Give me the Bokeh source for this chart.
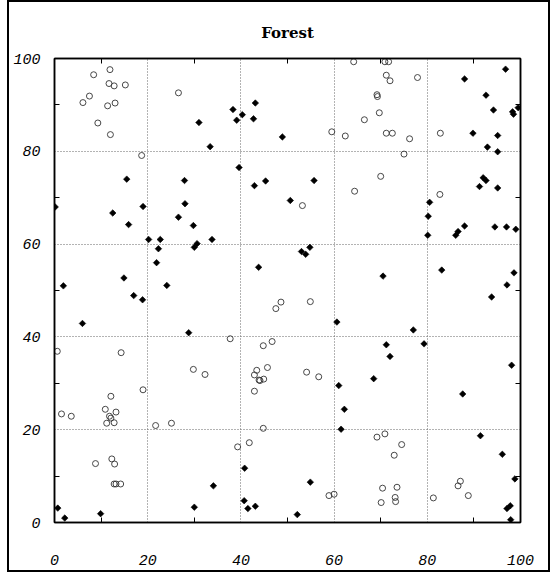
import math
from bokeh.plotting import figure
from bokeh.models import FixedTicker, LinearAxis, Range1d
from bokeh.embed import file_html
from bokeh.resources import INLINE

# Open circles
circle_x = [8.4, 11.9, 11.7, 12.8, 15.2, 7.5, 6.1, 11.4, 13.0, 9.3, 12.0, 26.6, 18.7,
            64.2, 70.9, 71.7, 71.2, 72.0, 77.9, 69.2, 69.3, 69.7, 66.5, 59.5, 62.4, 71.2,
            72.5, 76.2, 75.0, 82.8, 70.0, 64.4, 82.7, 53.2, 48.6, 47.5, 37.7, 46.7, 44.8,
            0.6, 14.3, 29.8, 32.3, 45.7, 43.4, 42.9, 43.9, 44.1, 44.9, 42.9, 19.0, 12.1,
            10.9, 13.2, 11.8, 12.1, 11.2, 12.8, 1.5, 3.6, 21.7, 25.1, 44.8, 41.8, 39.3,
            12.3, 12.9, 8.8, 12.8, 13.2, 14.2, 54.9, 54.1, 56.7, 69.2, 70.9, 74.5, 72.9,
            87.1, 86.6, 88.8, 81.3, 70.4, 73.5, 73.1, 73.2, 70.1, 58.9, 60.0]
circle_y = [96.5, 97.6, 94.6, 94.1, 94.3, 91.9, 90.5, 89.8, 90.4, 86.1, 83.6, 92.6, 79.1,
            99.3, 99.3, 99.3, 96.4, 95.2, 95.9, 92.2, 91.8, 88.3, 86.8, 84.2, 83.3, 83.9,
            83.9, 82.7, 79.4, 83.9, 74.6, 71.4, 70.7, 68.3, 47.5, 46.1, 39.6, 39.0, 38.1,
            36.9, 36.6, 33.0, 31.9, 33.4, 32.8, 31.8, 30.7, 30.6, 30.9, 28.3, 28.6, 27.2,
            24.4, 23.8, 22.9, 22.5, 21.4, 21.5, 23.4, 22.9, 20.9, 21.4, 20.3, 17.2, 16.3,
            13.7, 12.6, 12.7, 8.3, 8.3, 8.3, 47.6, 32.4, 31.4, 18.4, 19.1, 16.8, 14.5,
            8.9, 7.9, 5.8, 5.3, 7.4, 7.6, 5.4, 4.5, 4.3, 5.8, 6.1]

# Filled diamonds
diamond_x = [31.0, 38.3, 39.1, 40.3, 42.7, 43.1, 48.9, 33.4, 39.6, 15.5, 27.9, 45.3, 42.9,
             0.15, 12.5, 19.0, 28.0, 26.6, 15.9, 29.8, 20.2, 22.7, 33.8, 30.6, 30.0, 22.3,
             21.9, 43.8, 14.9, 1.9, 24.1, 96.8, 88.0, 92.6, 94.2, 98.3, 98.5, 99.5, 89.8,
             95.1, 92.9, 95.1, 55.7, 50.6, 92.0, 92.6, 91.2, 95.1, 80.5, 80.2, 80.1, 88.0,
             86.6, 86.1, 94.5, 97.0, 99.0, 53.0, 53.9, 54.8, 83.1, 98.6, 70.5, 97.1, 17.0,
             18.9, 6.0, 28.8, 0.7, 2.2, 9.9, 30.0, 34.1, 40.8, 40.7, 41.5, 43.1, 93.8, 60.6,
             77.0, 71.2, 79.3, 72.0, 98.1, 68.5, 61.0, 87.6, 62.2, 61.5, 91.4, 96.1, 98.8,
             54.9, 97.1, 97.8, 97.9, 52.1]
diamond_y = [86.2, 89.0, 86.7, 87.9, 87.0, 90.4, 83.1, 81.0, 76.5, 74.0, 73.7, 73.6, 72.6,
             68.0, 66.7, 68.1, 68.7, 65.8, 64.2, 64.0, 61.0, 61.0, 61.0, 60.1, 59.3, 59.0,
             56.0, 55.0, 52.7, 51.0, 51.1, 97.7, 95.6, 92.1, 88.9, 88.5, 88.0, 89.4, 83.9,
             83.4, 80.9, 79.9, 73.7, 69.4, 74.3, 73.7, 72.4, 72.1, 69.0, 66.0, 61.9, 63.9,
             62.7, 61.9, 63.7, 63.7, 63.2, 58.4, 57.8, 59.3, 54.4, 53.8, 53.1, 51.2, 48.9,
             48.0, 42.9, 40.9, 3.1, 0.95, 1.9, 3.3, 7.9, 11.7, 4.7, 3.0, 3.5, 48.6, 43.2,
             41.5, 38.3, 38.5, 35.8, 33.9, 31.0, 29.5, 27.7, 24.4, 20.1, 18.7, 14.7, 9.4,
             8.7, 3.0, 3.6, 0.6, 1.7]

major_ticks = [0, 20, 40, 60, 80, 100]
minor_ticks = [10, 30, 50, 70, 90]
grid_ticks = [20, 40, 60, 80]

p = figure(frame_width=466, frame_height=464,
           x_range=Range1d(0, 100), y_range=Range1d(0, 100),
           output_backend="svg", toolbar_location=None, title="Forest",
           min_border_left=45, min_border_right=28, min_border_top=56,
           min_border_bottom=48)

p.styles = {"border": "2px solid black", "margin-left": "7px"}

p.title.align = "center"
p.title.text_font = "DejaVu Serif"
p.title.text_font_style = "bold"
p.title.text_font_size = "15px"
p.title.text_color = "black"
p.title.standoff = 33

p.outline_line_color = "black"
p.outline_line_width = 1.5
p.background_fill_color = "white"
p.border_fill_color = "white"

for ax in (p.xaxis[0], p.yaxis[0]):
    ax.ticker = FixedTicker(ticks=major_ticks, minor_ticks=minor_ticks)
    ax.major_tick_line_color = None
    ax.minor_tick_in = 5
    ax.minor_tick_out = 0
    ax.minor_tick_line_color = "black"
    ax.axis_line_width = 1.5
    ax.axis_line_color = "black"
    ax.major_label_text_font = "Liberation Mono"
    ax.major_label_text_font_style = "italic"
    ax.major_label_text_font_size = "15px"
    ax.major_label_text_color = "black"

p.xaxis[0].major_label_standoff = 26
p.yaxis[0].major_label_standoff = 8

for side in ("above", "right"):
    ax = LinearAxis(ticker=FixedTicker(ticks=[], minor_ticks=minor_ticks),
                    major_tick_line_color=None, minor_tick_in=5, minor_tick_out=0,
                    minor_tick_line_color="black", axis_line_width=1.5,
                    major_label_standoff=0)
    p.add_layout(ax, side)

p.xgrid.ticker = FixedTicker(ticks=grid_ticks)
p.ygrid.ticker = FixedTicker(ticks=grid_ticks)
for g in (p.xgrid, p.ygrid):
    g.grid_line_color = "#666666"
    g.grid_line_dash = "1 2"
    g.grid_line_width = 1

p.scatter(circle_x, circle_y, marker="circle", size=6, fill_color=None,
          line_color="#333333", line_width=0.9)
p.scatter(diamond_x, diamond_y, marker="square", angle=math.pi / 4, size=4.6,
          fill_color="black", line_color="black", line_width=0.6)

open("out.html", "w").write(file_html(p, INLINE))
